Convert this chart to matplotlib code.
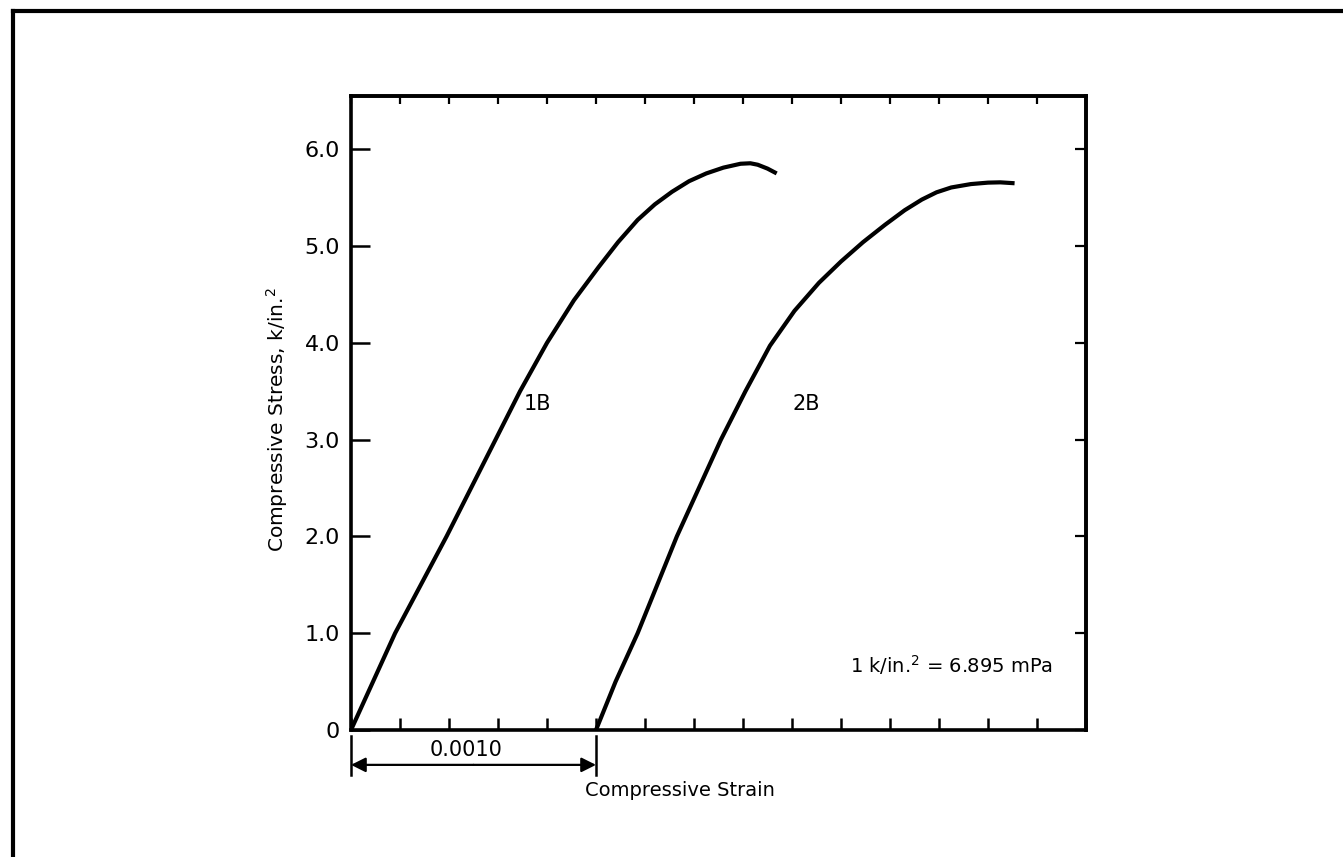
import matplotlib
matplotlib.use("Agg")
import matplotlib.pyplot as plt
from matplotlib.lines import Line2D

plt.rcParams['font.family'] = ['DejaVu Sans']

# Data (strain, stress in k/in.^2)
strain_1b = [0.0, 0.00009, 0.00018, 0.000285, 0.00039, 0.00049, 0.00059, 0.00069,
             0.00080, 0.00091, 0.00101, 0.00109, 0.00117, 0.00124,
             0.00131, 0.00138, 0.00145, 0.00152, 0.00159, 0.00163, 0.00166,
             0.00170, 0.00173]
stress_1b = [0.0, 0.5, 1.0, 1.5, 2.0, 2.5, 3.0, 3.5, 4.0, 4.44, 4.78, 5.04,
             5.27, 5.43, 5.56, 5.67, 5.75, 5.81, 5.85, 5.855, 5.84, 5.80, 5.76]

strain_2b = [0.00100, 0.00108, 0.00117, 0.00125, 0.00133, 0.00142, 0.00151, 0.00161,
             0.00171, 0.00181, 0.00191, 0.00200, 0.00209, 0.00218, 0.00226, 0.00233,
             0.00239, 0.00245, 0.00253, 0.00260, 0.00265, 0.00270]
stress_2b = [0.0, 0.5, 1.0, 1.5, 2.0, 2.5, 3.0, 3.5, 3.97, 4.33, 4.62, 4.84, 5.04,
             5.22, 5.37, 5.48, 5.555, 5.605, 5.64, 5.655, 5.658, 5.65]

y_ticks = [0, 1, 2, 3, 4, 5, 6]
y_labels = ['0', '1.0', '2.0', '3.0', '4.0', '5.0', '6.0']
x_ticks = [0.0002 * i for i in range(16)]
series_labels = ['1B', '2B']
label_pos = [(0.00076, 3.37), (0.00186, 3.37)]

W, H = 1343, 857
fig = plt.figure(figsize=(W / 100, H / 100), dpi=100)
left, right, top, bottom = 351, 1086, 96, 730
ax = fig.add_axes([left / W, 1 - bottom / H, (right - left) / W, (bottom - top) / H])

lw = 3.0
ax.plot(strain_1b, stress_1b, color='black', lw=lw, solid_joinstyle='round')
ax.plot(strain_2b, stress_2b, color='black', lw=lw, solid_joinstyle='round')

ax.set_xlim(0, 0.003)
ax.set_ylim(0, 6.55)

for s in ax.spines.values():
    s.set_linewidth(2.6)

ax.set_yticks(y_ticks)
ax.set_yticklabels(y_labels, fontsize=16)
ax.set_xticks(x_ticks)
ax.set_xticklabels([])
ax.tick_params(axis='y', direction='in', length=14, width=1.8, pad=8)
ax.tick_params(axis='x', direction='in', length=9, width=1.8)

secx = ax.secondary_xaxis('top')
secx.set_xticks(x_ticks)
secx.set_xticklabels([])
secx.tick_params(direction='in', length=6, width=1.6)
secx.spines['top'].set_linewidth(2.6)
secy = ax.secondary_yaxis('right')
secy.set_yticks(y_ticks)
secy.set_yticklabels([])
secy.tick_params(direction='in', length=8, width=1.6)
secy.spines['right'].set_linewidth(2.6)

for lab, (lx, ly) in zip(series_labels, label_pos):
    ax.text(lx, ly, lab, fontsize=15, ha='center', va='center')

ax.text(0.00245, 0.67, r'1 k/in.$^{2}$ = 6.895 mPa', fontsize=14, ha='center', va='center')

# dimension line for 0.0010
trans = ax.get_xaxis_transform()
for xv in (0.0, 0.0010):
    ax.add_line(Line2D([xv, xv], [-0.010, -0.071], transform=trans, color='black',
                       lw=1.8, clip_on=False))
ax.annotate('', xy=(0.0, -0.055), xytext=(0.0005, -0.055), xycoords=trans, textcoords=trans,
            arrowprops=dict(arrowstyle='-|>', color='black', lw=1.6, mutation_scale=22,
                            shrinkA=0, shrinkB=0))
ax.annotate('', xy=(0.0010, -0.055), xytext=(0.0005, -0.055), xycoords=trans, textcoords=trans,
            arrowprops=dict(arrowstyle='-|>', color='black', lw=1.6, mutation_scale=22,
                            shrinkA=0, shrinkB=0))
ax.text(0.00047, -0.031, '0.0010', transform=trans, fontsize=15, ha='center', va='center')

ax.text(0.001343, -0.095, 'Compressive Strain', transform=trans, fontsize=14,
        ha='center', va='center')
ax.text(-0.101, 0.49, r'Compressive Stress, k/in.$^{2}$', transform=ax.transAxes,
        fontsize=14.5, ha='center', va='center', rotation=90)

# outer frame (top and left edges)
fig.add_artist(Line2D([13 / W, 13 / W], [1 - 11 / H, 0], transform=fig.transFigure,
                      color='black', lw=3.0))
fig.add_artist(Line2D([13 / W, 1], [1 - 11 / H, 1 - 11 / H], transform=fig.transFigure,
                      color='black', lw=3.0))

fig.savefig('out.png', dpi=100, facecolor='white')
